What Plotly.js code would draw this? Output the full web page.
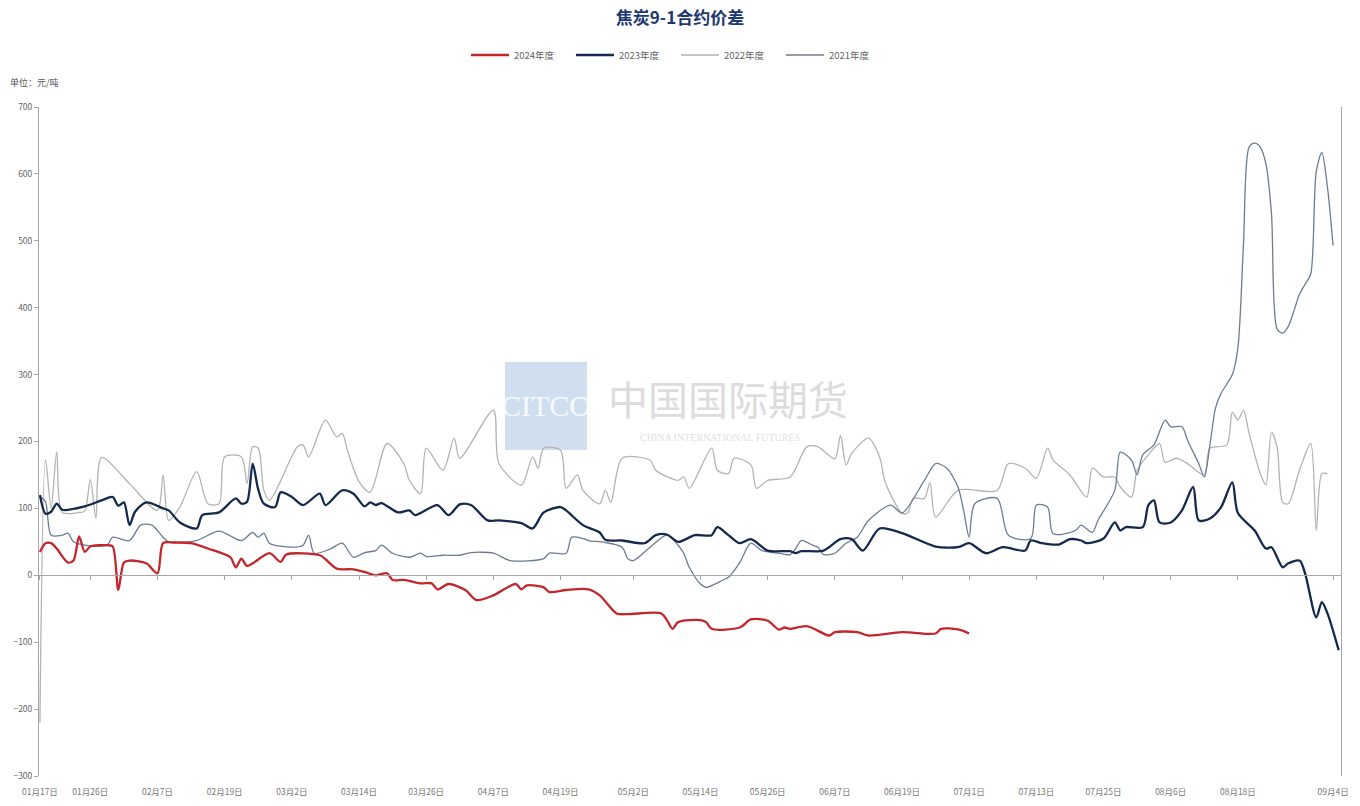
<!DOCTYPE html>
<html><head><meta charset="utf-8">
<script src="https://cdn.plot.ly/plotly-3.0.1.min.js"></script>
<style>html,body{margin:0;padding:0;background:#fff;} #chart{width:1360px;height:806px;}</style>
</head><body><div id="chart"></div>
<script>
// ---- tick labels (calendar axis, mapped onto one year) ----
const tickDates = ['01-17','01-26','02-07','02-19','03-02','03-14','03-26','04-07','04-19','05-02','05-14','05-26','06-07','06-19','07-01','07-13','07-25','08-06','08-18','09-04'];
const tickLabels = ['01月17日','01月26日','02月7日','02月19日','03月2日','03月14日','03月26日','04月7日','04月19日','05月2日','05月14日','05月26日','06月7日','06月19日','07月1日','07月13日','07月25日','08月6日','08月18日','09月4日'];

// ---- 2024年度 ----
const dates2024 = ['01-17','01-18','01-19','01-20','01-22','01-23','01-24','01-25','01-26','01-29','01-30','01-31','02-01','02-02','02-05','02-07','02-08','02-10','02-13','02-16','02-20','02-21','02-22','02-23','02-27','02-29','03-01','03-07','03-08','03-10','03-13','03-15','03-17','03-19','03-20','03-22','03-25','03-27','03-28','03-30','04-02','04-04','04-07','04-11','04-12','04-13','04-16','04-17','04-20','04-24','04-26','04-29','05-01','05-07','05-08','05-09','05-10','05-14','05-15','05-16','05-21','05-23','05-26','05-28','05-29','05-30','06-02','06-06','06-07','06-11','06-13','06-19','06-25','06-26','06-29','07-01'];
const vals2024 = [35,48,48,40,19,22,58,35,43,45,43,-22,19,22,18,3,48,49,48,40,27,12,25,14,33,20,31,30,24,10,9,5,0,3,-7,-7,-12,-12,-21,-13,-22,-37,-30,-13,-21,-15,-18,-25,-22,-21,-30,-57,-58,-57,-67,-80,-70,-67,-70,-80,-78,-66,-68,-81,-78,-80,-76,-90,-85,-85,-90,-85,-87,-80,-81,-87];

// ---- 2023年度 ----
const dates2023 = ['01-17','01-18','01-19','01-20','01-21','01-25','01-28','01-30','01-31','02-01',
 '02-02','02-03','02-05','02-08','02-09','02-11','02-14','02-15','02-18','02-21',
 '02-22','02-23','02-24','02-25','02-26','02-28','02-29','03-02','03-04','03-07',
 '03-08','03-11','03-13','03-15','03-16','03-17','03-18','03-21','03-23','03-24',
 '03-28','03-30','04-01','04-03','04-06','04-08','04-12','04-14','04-16','04-19',
 '04-20','04-23','04-26','04-27','04-30','05-04','05-06','05-08','05-10','05-13',
 '05-16','05-17','05-19','05-21','05-23','05-26','05-30','05-31','06-01','06-05',
 '06-08','06-10','06-12','06-15','06-19','06-25','06-29','07-01','07-04','07-07',
 '07-11','07-12','07-14','07-17','07-19','07-21','07-22','07-25','07-27','07-28',
 '07-29','08-01','08-02','08-03','08-04','08-06','08-08','08-10','08-11','08-13',
 '08-15','08-17','08-18','08-21','08-23','08-24','08-26','08-27','08-29','08-30',
 '09-01','09-02','09-03','09-05'];
const vals2023 = [120,92,95,107,98,103,112,117,104,109,
 75,95,109,100,97,79,70,90,94,115,
 107,110,167,128,107,102,124,117,105,122,
 105,127,122,103,109,105,108,94,97,90,
 105,90,106,105,82,82,78,70,94,102,
 97,75,64,53,52,48,60,61,50,60,
 60,72,60,48,54,37,36,33,36,37,
 54,54,37,70,63,43,42,48,33,42,
 37,52,48,46,54,52,48,55,79,67,
 72,72,105,112,79,79,97,132,82,85,
 102,139,93,67,40,42,12,18,22,3,
 -63,-40,-57,-112];

// ---- 2022年度 ----
const dates2022 = ['01-17','01-18','01-19','01-20','01-21','01-24','01-25','01-26','01-27','01-28',
 '02-02','02-07','02-08','02-09','02-11','02-14','02-16','02-18','02-19','02-22',
 '02-23','02-24','02-25','02-26','02-27','03-03','03-04','03-05','03-08','03-10',
 '03-11','03-12','03-14','03-16','03-19','03-22','03-23','03-25','03-26','03-29',
 '03-31','04-01','04-07','04-08','04-12','04-14','04-15','04-16','04-19','04-20',
 '04-22','04-23','04-26','04-27','04-28','04-30','05-05','05-06','05-10','05-11',
 '05-12','05-16','05-17','05-19','05-20','05-23','05-24','05-26','05-30','06-02',
 '06-04','06-07','06-08','06-09','06-10','06-13','06-15','06-16','06-19','06-20',
 '06-21','06-23','06-24','06-25','06-29','07-06','07-08','07-11','07-13','07-15',
 '07-16','07-19','07-22','07-23','07-25','07-27','07-28','07-30','07-31','08-02',
 '08-04','08-05','08-07','08-09','08-12','08-13','08-16','08-17','08-18','08-19',
 '08-20','08-22','08-23','08-24','08-25','08-26','08-27','08-29','08-31','09-01',
 '09-02','09-03'];
const vals2022 = [-220,173,100,185,94,94,96,143,85,176,
 137,97,150,82,102,155,107,107,177,177,
 137,192,190,127,112,192,195,177,232,207,
 212,185,140,124,197,167,142,122,190,157,
 205,175,247,167,135,177,160,190,187,130,
 150,127,107,127,109,175,172,157,142,147,
 130,190,157,152,175,165,130,142,147,192,
 192,174,209,165,182,205,177,139,93,93,
 115,115,139,87,127,127,167,160,145,190,
 172,150,117,160,147,147,132,117,157,180,
 197,169,175,167,150,190,195,244,232,247,
 212,152,135,214,192,109,107,157,197,67,
 152,152];

// ---- 2021年度 ----
const dates2021 = ['01-17','01-18','01-19','01-21','01-22','01-23','01-25','01-29','01-30','02-02',
 '02-04','02-06','02-08','02-09','02-14','02-18','02-22','02-24','02-25','02-26',
 '02-27','03-02','03-04','03-05','03-06','03-09','03-11','03-13','03-15','03-17',
 '03-18','03-20','03-23','03-25','03-26','03-29','04-01','04-03','04-07','04-10',
 '04-16','04-17','04-20','04-21','04-23','04-24','04-27','04-30','05-01','05-02',
 '05-05','05-08','05-10','05-11','05-12','05-14','05-15','05-18','05-19','05-21',
 '05-23','05-25','05-28','05-30','05-31','06-01','06-03','06-04','06-05','06-07',
 '06-09','06-11','06-13','06-17','06-19','06-23','06-25','06-27','06-29','06-30',
 '07-01','07-02','07-06','07-08','07-12','07-13','07-15','07-16','07-20','07-21',
 '07-23','07-24','07-27','07-28','07-30','07-31','08-01','08-03','08-05','08-06',
 '08-08','08-09','08-11','08-12','08-13','08-14','08-15','08-17','08-18','08-19',
 '08-20','08-21','08-22','08-23','08-24','08-25','08-26','08-27','08-28','08-29',
 '08-30','08-31','09-01','09-02','09-03','09-04'];
const vals2021 = [118,110,60,60,63,50,45,45,57,52,
 75,75,57,50,52,66,52,64,57,63,
 48,42,45,60,33,40,48,27,34,37,
 45,33,27,33,28,30,30,34,33,22,
 25,33,33,57,55,52,49,42,25,22,
 42,60,45,33,12,-13,-18,-7,-3,19,
 48,37,33,31,40,52,45,42,31,33,
 48,57,82,105,93,142,167,160,132,97,
 57,107,115,60,55,105,102,62,67,75,
 64,82,127,184,172,150,180,195,232,222,
 222,202,167,147,195,250,272,300,340,496,
 640,646,640,615,540,368,362,372,395,420,
 435,450,604,632,580,493];

const YEAR = '2024-';
const toDates = a => a.map(d => YEAR + d);
const FONT = '"Noto Sans CJK SC", "Noto Sans", sans-serif';
const xRange = ['2024-01-16 20:00', '2024-09-05 10:00'];
const sp = {shape:'spline', smoothing:0.8};

const traces = [
  {type:'scatter', mode:'lines', name:'2024年度', x:toDates(dates2024), y:vals2024, xaxis:'x2', yaxis:'y',
   line:Object.assign({color:'#c1272d', width:2.3}, sp)},
  {type:'scatter', mode:'lines', name:'2023年度', x:toDates(dates2023), y:vals2023, xaxis:'x2', yaxis:'y',
   line:Object.assign({color:'#13294d', width:2.3}, sp)},
  {type:'scatter', mode:'lines', name:'2022年度', x:toDates(dates2022), y:vals2022, xaxis:'x', yaxis:'y',
   line:Object.assign({color:'#b3b3b3', width:1.3}, sp)},
  {type:'scatter', mode:'lines', name:'2021年度', x:toDates(dates2021), y:vals2021, xaxis:'x', yaxis:'y',
   line:Object.assign({color:'#6b7c93', width:1.3}, sp)}
];

const tv = toDates(tickDates);
const PL = 39, PW = 1302, PB = 776, PH = 669;
const px = X => (X - PL) / PW;
const py = Y => (PB - Y) / PH;

const layout = {
  width:1360, height:806,
  margin:{l:39, r:19, t:107, b:30},
  paper_bgcolor:'#ffffff', plot_bgcolor:'#ffffff',
  font:{family:FONT, color:'#666', size:9},
  showlegend:true,
  title:{text:'<b>焦炭9-1合约价差</b>', x:0.5, xref:'container', xanchor:'center',
         y:1 - 18/806, yref:'container', yanchor:'middle',
         font:{family:FONT, size:17, color:'#1d3770'}},
  legend:{orientation:'h', x:px(676), xanchor:'center', y:py(55), yanchor:'middle',
          itemwidth:38, entrywidth:52,
          font:{family:FONT, size:9.5, color:'#666'}, bgcolor:'rgba(0,0,0,0)', traceorder:'normal'},
  xaxis:{type:'date', range:xRange, anchor:'y', tickmode:'array', tickvals:tv, ticktext:tickLabels,
         ticks:'', showline:false, showgrid:false, zeroline:false, ticklabelstandoff:9,
         tickfont:{family:FONT, size:8.5, color:'#777'}},
  xaxis2:{type:'date', range:xRange, overlaying:'x', anchor:'free', position:0.3,
          tickmode:'array', tickvals:tv, showticklabels:false,
          ticks:'outside', ticklen:4, tickcolor:'#a6a6a6', showline:true, linecolor:'#a6a6a6', linewidth:1,
          showgrid:false, zeroline:false},
  yaxis:{range:[-300,700], tickmode:'linear', tick0:0, dtick:100, showline:true, mirror:true,
         linecolor:'#a6a6a6', linewidth:1, ticks:'outside', ticklen:4, tickcolor:'#a6a6a6',
         showgrid:false, zeroline:false, tickfont:{family:FONT, size:8.5, color:'#666'}},
  shapes:[
    {type:'rect', xref:'paper', yref:'paper', x0:px(505), x1:px(587), y0:py(450), y1:py(362),
     fillcolor:'rgba(170,196,228,0.55)', line:{width:0}, layer:'below'}
  ],
  annotations:[
    {text:'单位：元/吨', xref:'paper', yref:'paper', x:px(8), y:py(82), xanchor:'left', yanchor:'middle',
     showarrow:false, font:{family:FONT, size:9, color:'#555'}},
    {text:'CITCO', xref:'paper', yref:'paper', x:px(546), y:py(405), xanchor:'center', yanchor:'middle',
     showarrow:false, font:{family:'"Liberation Serif", serif', size:30, color:'rgba(255,255,255,0.85)'}},
    {text:'中国国际期货', xref:'paper', yref:'paper', x:px(728), y:py(398), xanchor:'center', yanchor:'middle',
     showarrow:false, font:{family:FONT, size:40, color:'rgba(190,190,190,0.55)'}},
    {text:'CHINA INTERNATIONAL FUTURES', xref:'paper', yref:'paper', x:px(720), y:py(438), xanchor:'center', yanchor:'middle',
     showarrow:false, font:{family:'"Liberation Serif", serif', size:10, color:'rgba(190,190,190,0.5)'}}
  ]
};

Plotly.newPlot('chart', traces, layout, {displayModeBar:false, responsive:false});
</script>
</body></html>
